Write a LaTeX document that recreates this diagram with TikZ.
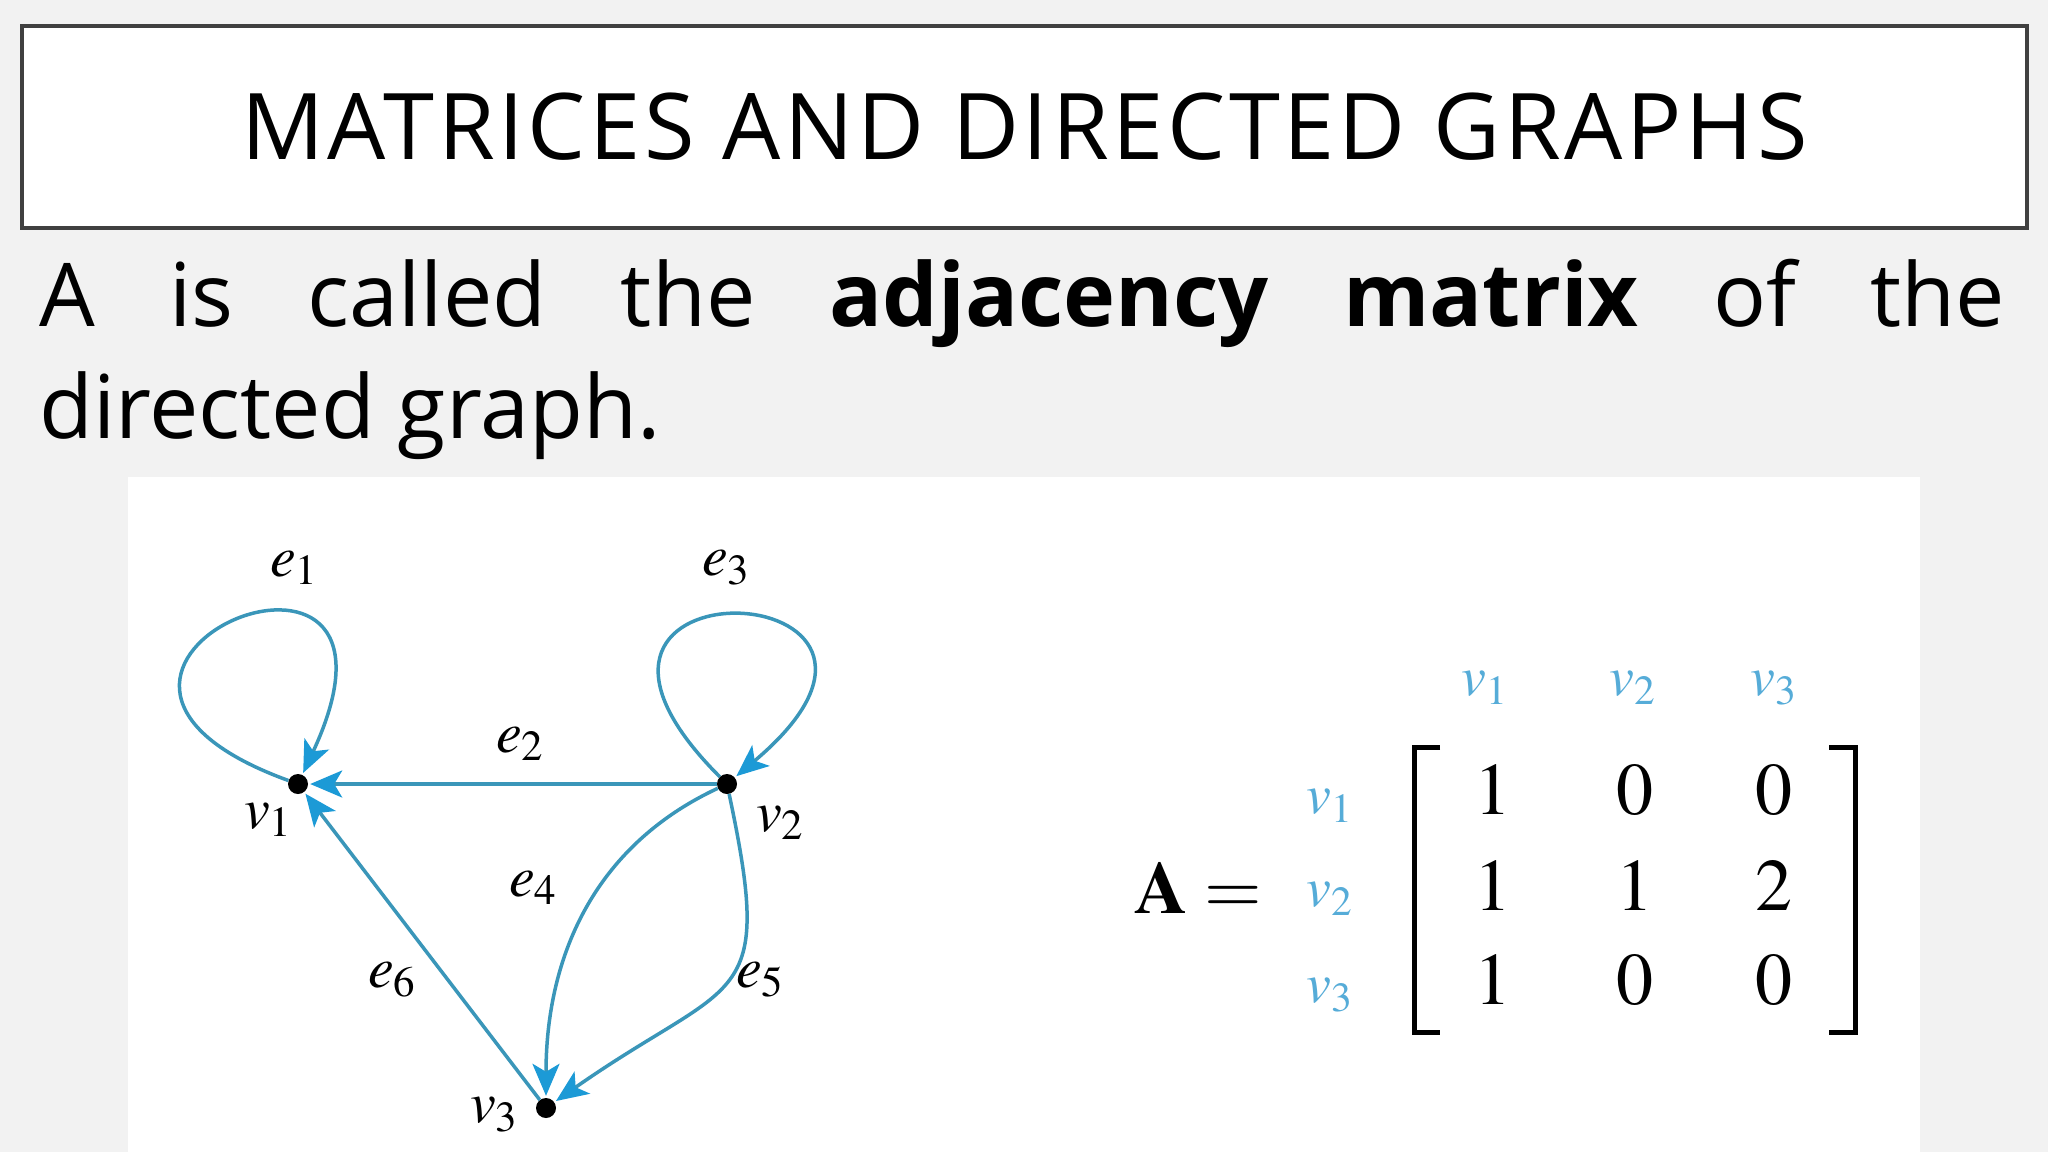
\documentclass[tikz,border=0pt]{standalone}
\usepackage{mathptmx}
\usepackage[no-math]{fontspec}
\setmainfont{Open Sans}
\usetikzlibrary{arrows.meta,positioning}

\definecolor{slidebg}{RGB}{242,242,242}
\definecolor{framegray}{RGB}{64,64,64}
\definecolor{edgeblue}{RGB}{58,150,185}
\definecolor{tipblue}{RGB}{28,154,214}
\definecolor{labelblue}{RGB}{86,172,216}

\tikzset{
  vertex/.style={circle,fill=black,inner sep=0pt,minimum size=20pt},
  edge/.style={draw=edgeblue,line width=3.5pt,shorten >=2pt,-{Stealth[length=32pt,width=27pt,inset=8pt,color=tipblue]}},
  elabel/.style={font=\fontsize{58}{64}\selectfont,inner sep=0pt},
  vlabel/.style={font=\fontsize{56}{62}\selectfont,inner sep=0pt,text=labelblue},
  entry/.style={font=\fontsize{74}{80}\selectfont,inner sep=0pt},
  bodyline/.style={anchor=base west,inner sep=0pt,font=\fontsize{88}{112}\selectfont}
}

\begin{document}
\begin{tikzpicture}[x=1pt,y=1pt]
% slide background and picture panel
\fill[slidebg] (0,0) rectangle (2048,-1152);
\fill[white] (128,-477) rectangle (1920,-1152);
\useasboundingbox (0,0) rectangle (2048,-1152);

% heading
\node[draw=framegray,line width=4pt,fill=white,minimum width=2005pt,minimum height=202pt,inner sep=0pt,
  font=\fontsize{92}{100}\selectfont\addfontfeature{LetterSpace=4}] (title) at (1024.5,-127) {MATRICES AND DIRECTED GRAPHS};

% text under the heading
\node[bodyline] (line1) at (39,-326) {\makebox[1966pt][s]{A is called the \textbf{adjacency matrix} of the}};
\node[bodyline] (line2) at (39,-438) {directed graph.};

% the directed graph
\node[vertex] (v1) at (298,-784) {};
\node[vertex] (v2) at (727,-784) {};
\node[vertex] (v3) at (546,-1108) {};
\node[elabel] (lv1) at (268,-820) {$v_1$};
\node[elabel] (lv2) at (780,-823) {$v_2$};
\node[elabel] (lv3) at (494,-1115) {$v_3$};
\node[elabel] (le1) at (294,-568) {$e_1$};
\node[elabel] (le2) at (520,-744) {$e_2$};
\node[elabel] (le3) at (726,-568) {$e_3$};
\node[elabel] (le4) at (533,-888) {$e_4$};
\node[elabel] (le5) at (760,-980) {$e_5$};
\node[elabel] (le6) at (392,-980) {$e_6$};

\draw[edge] (v1) to[out=160,in=65,distance=330pt] (v1);
\draw[edge] (v2) -- (v1);
\draw[edge] (v2) to[out=135,in=40,distance=320pt] (v2);
\draw[edge] (v2) to[out=205,in=90] (v3);
\draw[edge] (v2) to[out=-78,in=35,looseness=1.6] (v3);
\draw[edge] (v3) -- (v1);

% the matrix
\node[entry] (lhs) at (1198,-888) {$\mathbf{A}=$};
\node[vlabel] (c1) at (1485,-688) {$v_1$};
\node[vlabel] (c2) at (1633,-688) {$v_2$};
\node[vlabel] (c3) at (1774,-688) {$v_3$};
\node[vlabel] (r1) at (1330,-806) {$v_1$};
\node[vlabel] (r2) at (1330,-899) {$v_2$};
\node[vlabel] (r3) at (1330,-995) {$v_3$};
\node[entry] (a11) at (1493,-790) {$1$};
\node[entry] (a12) at (1635,-790) {$0$};
\node[entry] (a13) at (1774,-790) {$0$};
\node[entry] (a21) at (1493,-886) {$1$};
\node[entry] (a22) at (1635,-886) {$1$};
\node[entry] (a23) at (1774,-886) {$2$};
\node[entry] (a31) at (1493,-980) {$1$};
\node[entry] (a32) at (1635,-980) {$0$};
\node[entry] (a33) at (1774,-980) {$0$};
% brackets
\draw[line width=5pt] (1440,-747) -- (1414,-747) -- (1414,-1032) -- (1440,-1032);
\draw[line width=5pt] (1829,-747) -- (1855,-747) -- (1855,-1032) -- (1829,-1032);
\end{tikzpicture}
\end{document}
